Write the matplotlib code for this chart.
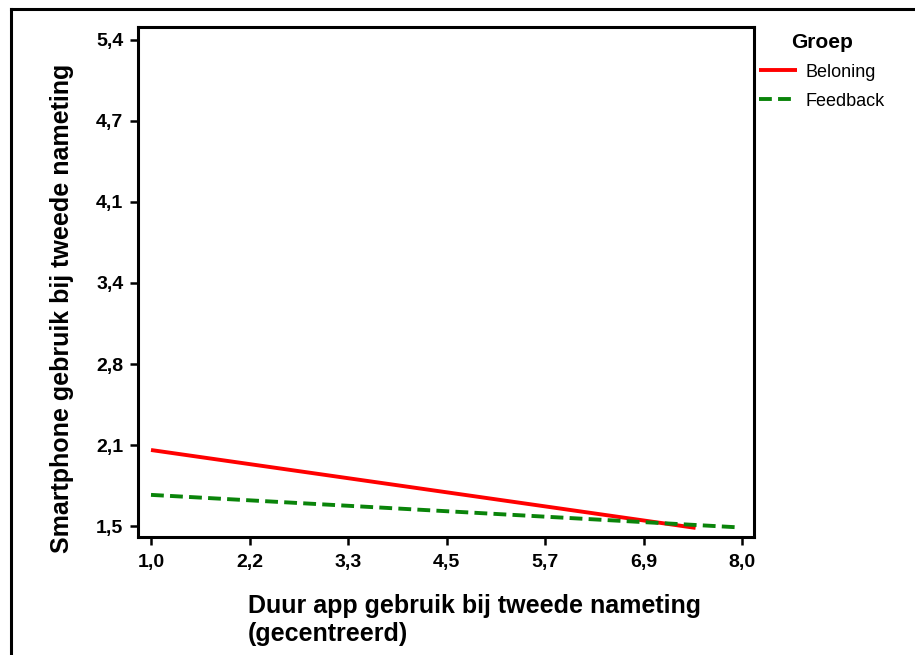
import numpy as np
import matplotlib.pyplot as plt
from matplotlib.lines import Line2D

plt.rcParams['font.family'] = ['Liberation Sans', 'DejaVu Sans']

# data
groups = ['Beloning', 'Feedback']
x_beloning = [1.0, 7.45]
y_beloning = [2.11, 1.485]
x_feedback = [1.0, 7.94]
y_feedback = [1.75, 1.49]

xtick_labels = ['1,0', '2,2', '3,3', '4,5', '5,7', '6,9', '8,0']
ytick_labels = ['1,5', '2,1', '2,8', '3,4', '4,1', '4,7', '5,4']

W, H = 915, 655
fig = plt.figure(figsize=(W / 100, H / 100), dpi=100)

# axes placed in pixel terms
left, right, top, bottom = 138, 754, 27, 537
ax = fig.add_axes([left / W, 1 - bottom / H, (right - left) / W, (bottom - top) / H])

ax.plot(x_beloning, y_beloning, color='#ff0000', lw=2.8, solid_capstyle='butt', label=groups[0])
ax.plot(x_feedback, y_feedback, color='#0a840a', lw=2.8, dashes=(3.3, 1.6), label=groups[1])

ax.set_xlim(0.846, 8.142)
ax.set_ylim(1.412, 5.504)
ax.set_xticks(np.linspace(1.0, 8.0, 7))
ax.set_xticklabels(xtick_labels)
ax.set_yticks(np.linspace(1.5, 5.4, 7))
ax.set_yticklabels(ytick_labels)

for s in ax.spines.values():
    s.set_linewidth(2.2)
    s.set_color('black')
ax.tick_params(axis='both', direction='out', length=5.5, width=1.8, labelsize=14)
ax.tick_params(axis='x', pad=7)
ax.tick_params(axis='y', pad=5)
for lab in ax.get_xticklabels() + ax.get_yticklabels():
    lab.set_fontweight('bold')

# axis titles
fig.text(62 / W, 1 - 308 / H, 'Smartphone gebruik bij tweede nameting', rotation=90,
         ha='center', va='center', fontsize=18, fontweight='bold')
fig.text(248 / W, 1 - 606 / H, 'Duur app gebruik bij tweede nameting', ha='left', va='center',
         fontsize=18, fontweight='bold')
fig.text(248 / W, 1 - 634 / H, '(gecentreerd)', ha='left', va='center',
         fontsize=18, fontweight='bold')

# legend
leg = fig.legend(loc='upper left', bbox_to_anchor=(750 / W, 1 - 24 / H), frameon=False,
                 title='Groep', fontsize=13, handlelength=2.1, handletextpad=0.45,
                 borderpad=0, labelspacing=0.65)
leg.get_title().set_fontweight('bold')
leg.get_title().set_fontsize(15)

# figure frame (left and top edges)
fig.add_artist(Line2D([11 / W, 11 / W], [0, 1 - 9 / H], color='black', lw=2.2, transform=fig.transFigure))
fig.add_artist(Line2D([11 / W, 1], [1 - 9 / H, 1 - 9 / H], color='black', lw=2.2, transform=fig.transFigure))

fig.savefig('out.png', dpi=100)
